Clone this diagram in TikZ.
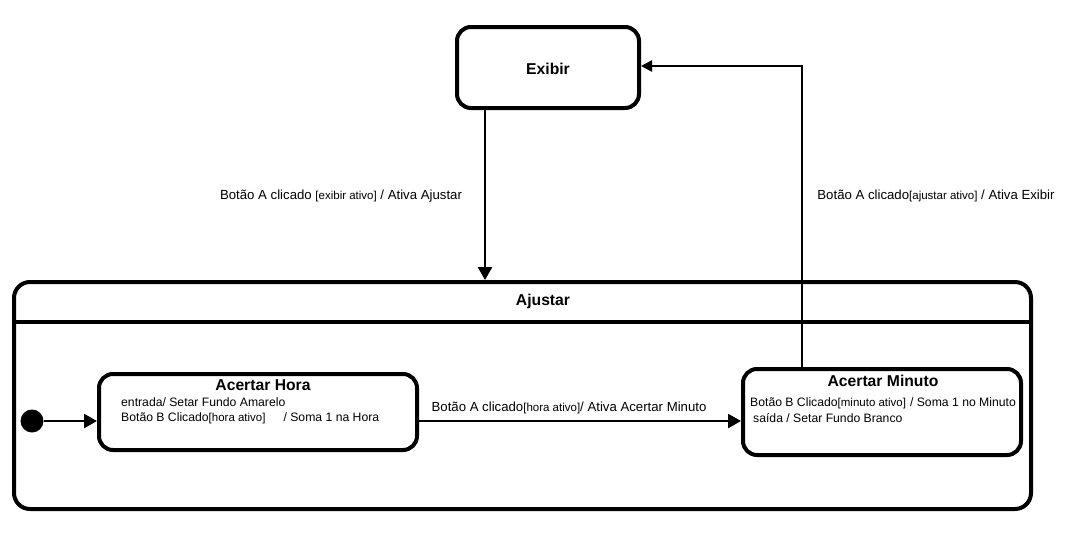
\documentclass[tikz,border=0pt]{standalone}
\usepackage{fontspec}
\setmainfont{Liberation Sans}
\usetikzlibrary{arrows.meta,calc}
\newcommand{\guarda}[1]{{\fontsize{11.5}{13}\selectfont[#1]}}
\tikzset{
	estado/.style={draw, line width=4pt, rounded corners=14pt, inner sep=0pt},
	trans/.style={line width=2.5pt, -{Triangle[length=13pt,width=14pt]}},
	rotulo/.style={font=\fontsize{13.2}{15}\selectfont, inner sep=0pt},
	acao/.style={font=\fontsize{12.2}{14}\selectfont, inner sep=0pt, anchor=west},
	titulo/.style={font=\fontsize{15.7}{18}\selectfont\bfseries, inner sep=0pt}
}

\begin{document}
\begin{tikzpicture}[x=1pt, y=-1pt]
			%%%%% START %%%%%
			\useasboundingbox (0, 0) rectangle (1066, 536);
			
			\node[estado, minimum width=182pt, minimum height=81pt] (exibir) at (548, 67.5) {};
			\node[titulo] (tExibir) at (548, 69) {Exibir};
			
			\node[estado, rounded corners=16pt, minimum width=1017pt, minimum height=227pt] (ajustar) at (522.5, 395.5) {};
			\draw[line width=4pt] (ajustar.west |- 0, 322) -- (ajustar.east |- 0, 322);
			\node[titulo] (tAjustar) at (543, 301) {Ajustar};
			
			\node[estado, minimum width=318pt, minimum height=76pt] (hora) at (258, 412) {};
			\node[titulo] (tHora) at (263, 385) {Acertar Hora};
			\node[acao] (hEntrada) at (121, 402) {entrada/ Setar Fundo Amarelo};
			\node[acao] (hBotao) at (121, 418) {Botão B Clicado\guarda{hora ativo}\hspace{18pt}/ Soma 1 na Hora};
			
			\node[estado, minimum width=278pt, minimum height=86pt] (minuto) at (882, 412) {};
			\node[titulo] (tMinuto) at (883, 381) {Acertar Minuto};
			\node[acao] (mBotao) at (750, 403) {Botão B Clicado\makebox[69pt][l]{\guarda{minuto ativo}} / Soma 1 no Minuto};
			\node[acao] (mSaida) at (753, 418) {saída / Setar Fundo Branco};
			
			\node[circle, fill=black, minimum size=23pt, inner sep=0pt] (inicio) at (32, 421) {};
			
			\draw[trans] (inicio) -- (inicio -| hora.west);
			\draw[trans] (hora.east |- inicio) -- (minuto.west |- inicio);
			\node[rotulo] (lHora) at (569, 408) {Botão A clicado\guarda{hora ativo}/ Ativa Acertar Minuto};
			
			\draw[trans] ([xshift=-63pt]exibir.south) -- ([xshift=-63pt]exibir.south |- ajustar.north);
			\node[rotulo] (lExibir) at (341, 196) {Botão A clicado \guarda{exibir ativo} / Ativa Ajustar};
			
			\draw[line width=2.5pt, -{Triangle[length=11pt,width=11pt]}] ([xshift=-80pt]minuto.north) |- ([yshift=1.5pt]exibir.east);
			\node[rotulo] (lAjustar) at (936, 196) {Botão A clicado\guarda{ajustar ativo} / Ativa Exibir};
			
			%%%%% END %%%%%
\end{tikzpicture}
\end{document}
